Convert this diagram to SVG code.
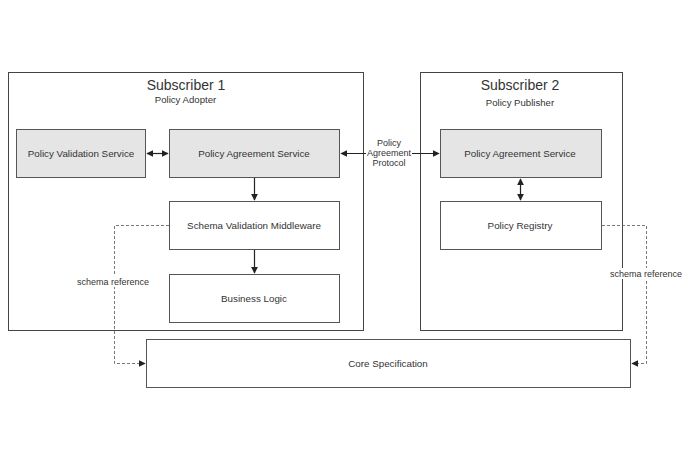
<svg xmlns="http://www.w3.org/2000/svg" width="690" height="460" viewBox="0 0 690 460">
<style>
text{font-family:"Liberation Sans",Arial,sans-serif;fill:#333;text-anchor:middle}
.c{fill:none;stroke:#444;stroke-width:1}
.n{fill:#fff;stroke:#555;stroke-width:1}
.g{fill:#e5e5e5;stroke:#555;stroke-width:1}
.t{font-size:9.8px}
.s{font-size:9px}
.p{font-size:9.6px}
.h{font-size:14px}
.e{fill:none;stroke:#222;stroke-width:1.2}
.d{fill:none;stroke:#555;stroke-width:0.8;stroke-dasharray:3 2}
</style>
<defs>
<marker id="a" viewBox="0 0 10 10" refX="9" refY="5" markerWidth="7" markerHeight="7" orient="auto-start-reverse" markerUnits="userSpaceOnUse"><path d="M0,0 L10,5 L0,10 z" fill="#222"/></marker>
</defs>
<rect width="690" height="460" fill="#fff"/>
<g id="subscriber1"><rect class="c" x="8.5" y="72.5" width="355" height="258"/><text class="h" x="186" y="90">Subscriber 1</text><text class="p" x="185.5" y="103">Policy Adopter</text></g>
<g id="subscriber2"><rect class="c" x="420.5" y="72.5" width="202" height="258"/><text class="h" x="520" y="90">Subscriber 2</text><text class="p" x="520" y="106">Policy Publisher</text></g>
<g id="pvs"><rect class="g" x="16.5" y="129.5" width="129" height="48"/><text class="t" x="81" y="157">Policy Validation Service</text></g>
<g id="pas1"><rect class="g" x="169.5" y="129.5" width="170" height="48"/><text class="t" x="254" y="157">Policy Agreement Service</text></g>
<g id="svm"><rect class="n" x="169.5" y="201.5" width="170" height="48"/><text class="t" x="254" y="229">Schema Validation Middleware</text></g>
<g id="bl"><rect class="n" x="169.5" y="274.5" width="170" height="48"/><text class="t" x="254" y="302">Business Logic</text></g>
<g id="pas2"><rect class="g" x="440.5" y="129.5" width="161" height="48"/><text class="t" x="520" y="157">Policy Agreement Service</text></g>
<g id="pr"><rect class="n" x="440.5" y="201.5" width="161" height="48"/><text class="t" x="520" y="229">Policy Registry</text></g>
<g id="core"><rect class="n" x="146.5" y="339.5" width="484" height="48"/><text class="t" x="388" y="367">Core Specification</text></g>
<g id="connectors">
<path class="e" d="M147,153.5 H168" marker-start="url(#a)" marker-end="url(#a)"/>
<path class="e" d="M254.5,178 V200" marker-end="url(#a)"/>
<path class="e" d="M254.5,250 V273" marker-end="url(#a)"/>
<path class="e" d="M341,153.5 H439" marker-start="url(#a)" marker-end="url(#a)"/>
<rect x="366" y="137" width="46" height="33" fill="#fff"/>
<text class="s" x="389" y="146">Policy</text><text class="s" x="389" y="156">Agreement</text><text class="s" x="389" y="166">Protocol</text>
<path class="e" d="M520.5,179 V200" marker-start="url(#a)" marker-end="url(#a)"/>
<path class="d" d="M169,225.5 H114.5 V363.5 H145" marker-end="url(#a)"/>
<rect x="77" y="276" width="74" height="11" fill="#fff"/>
<text class="s" x="113" y="285">schema reference</text>
<path class="d" d="M602,225.5 H646.5 V363.5 H632" marker-end="url(#a)"/>
<rect x="609" y="268" width="75" height="11" fill="#fff"/>
<text class="s" x="646" y="277">schema reference</text>
</g>
</svg>
